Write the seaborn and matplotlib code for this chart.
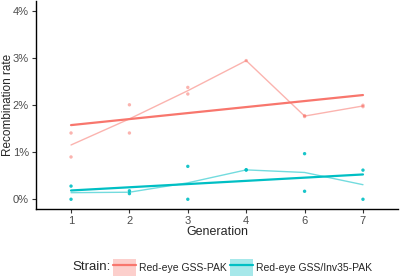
import numpy as np
import pandas as pd
import seaborn as sns
import matplotlib.pyplot as plt
from matplotlib.patches import Patch
from matplotlib.lines import Line2D
from matplotlib.ticker import PercentFormatter

# === DATA ===
GENERATIONS = ["1", "2", "3", "4", "6", "7"]
STRAINS = ["Red-eye GSS-PAK", "Red-eye GSS/Inv35-PAK"]
COLORS = ["#F8766D", "#00BFC4"]

# replicate measurements per generation, rate in % (nan = no second replicate)
red_rep1 = [1.41, 2.01, 2.38, 2.95, 1.78, 1.97]
red_rep2 = [0.90, 1.41, 2.24, np.nan, 1.76, 2.00]
cyan_rep1 = [0.28, 0.12, 0.70, 0.63, 0.97, 0.62]
cyan_rep2 = [0.00, 0.18, 0.00, 0.62, 0.17, 0.00]

rows = []
for strain, reps in zip(STRAINS, [(red_rep1, red_rep2), (cyan_rep1, cyan_rep2)]):
    for rep in reps:
        for gen, val in zip(GENERATIONS, rep):
            rows.append({"strain": strain, "generation": gen,
                         "pos": GENERATIONS.index(gen), "rate": val})
df = pd.DataFrame(rows).dropna()

sns.set_style("ticks")
plt.rcParams["font.family"] = ["Liberation Sans", "DejaVu Sans"]

fig = plt.figure(figsize=(4.0, 2.77), dpi=100)
ax = fig.add_axes([0.09, 0.245, 0.905, 0.75])

for strain, color in zip(STRAINS, COLORS):
    sub = df[df["strain"] == strain]
    # raw points
    sns.scatterplot(data=sub, x="pos", y="rate", color=color, s=6,
                    alpha=0.55 if strain == STRAINS[0] else 0.9,
                    edgecolor="none", ax=ax, zorder=3)
    # generation means
    sns.lineplot(data=sub, x="pos", y="rate", estimator="mean", errorbar=None,
                 color=color, alpha=0.55, lw=1.0, ax=ax)
    # linear trend
    sns.regplot(data=sub, x="pos", y="rate", ci=None, scatter=False,
                color=color, line_kws={"lw": 1.6}, ax=ax)

ax.set_xlim(-0.6, len(GENERATIONS) - 0.4)
ax.set_ylim(-0.21, 4.21)
ax.set_xticks(range(len(GENERATIONS)))
ax.set_xticklabels(GENERATIONS)
ax.set_yticks([0, 1, 2, 3, 4])
ax.yaxis.set_major_formatter(PercentFormatter(decimals=0))
ax.tick_params(labelsize=8, length=3, width=0.8, pad=2, colors="#333333",
               labelcolor="#4d4d4d")
ax.set_xlabel("Generation", fontsize=9, labelpad=0)
ax.set_ylabel("Recombination rate", fontsize=8.5)
ax.yaxis.set_label_coords(-0.062, 0.5)
sns.despine(ax=ax)
for side in ["left", "bottom"]:
    ax.spines[side].set_linewidth(1.0)
    ax.spines[side].set_color("black")

# legend at the bottom
handles = []
for color in COLORS:
    handles.append((Patch(facecolor=color, alpha=0.35, edgecolor="none"),
                    Line2D([], [], color=color, lw=1.6)))
fig.text(0.18, 0.035, "Strain:", fontsize=9.5, va="center")
fig.legend(handles, STRAINS, ncol=2, loc="center left",
           bbox_to_anchor=(0.265, 0.035), frameon=False, fontsize=7.5,
           handlelength=2.2, handleheight=2.2, handletextpad=0.3,
           columnspacing=0.3, borderpad=0.2)

plt.savefig("out.png", dpi=100)
plt.close()
